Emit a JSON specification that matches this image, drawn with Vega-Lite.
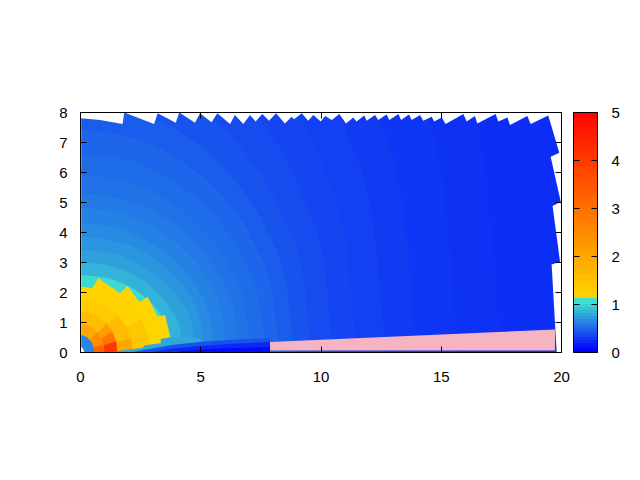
{"$schema":"https://vega.github.io/schema/vega-lite/v6.json","background":"white","padding":{"left":58,"top":105,"right":0,"bottom":0},"spacing":12,"bounds":"flush",
"config":{"view":{"stroke":null},"axis":{"grid":false,"title":null,"domain":true,"domainColor":"black","domainWidth":1,"tickColor":"black","tickWidth":1,"tickSize":-6,"labelColor":"black","labelFont":"Liberation Sans","labelFontSize":15,"labelFlush":false,"labelOverlap":false}},
"datasets":{
"polys":[
{"id":1,"v":0.2,"x":0,"y":8},{"id":1,"v":0.2,"x":20,"y":8},
{"id":2,"v":0.21,"x":0,"y":25},{"id":2,"v":0.21,"x":5.2,"y":24.15},{"id":2,"v":0.21,"x":10,"y":21.65},{"id":2,"v":0.21,"x":14.1,"y":17.7},{"id":2,"v":0.21,"x":17.3,"y":12.5},{"id":2,"v":0.21,"x":19.3,"y":6.5},{"id":2,"v":0.21,"x":20,"y":0},
{"id":3,"v":0.225,"x":0,"y":22},{"id":3,"v":0.225,"x":4.55,"y":21.25},{"id":3,"v":0.225,"x":8.75,"y":19.05},{"id":3,"v":0.225,"x":12.4,"y":15.55},{"id":3,"v":0.225,"x":15.15,"y":11},{"id":3,"v":0.225,"x":16.9,"y":5.7},{"id":3,"v":0.225,"x":17.5,"y":0},
{"id":4,"v":0.24,"x":0,"y":20},{"id":4,"v":0.24,"x":4.1,"y":19.3},{"id":4,"v":0.24,"x":7.85,"y":17.3},{"id":4,"v":0.24,"x":11.1,"y":14.15},{"id":4,"v":0.24,"x":13.6,"y":10},{"id":4,"v":0.24,"x":15.15,"y":5.2},{"id":4,"v":0.24,"x":15.7,"y":0},
{"id":5,"v":0.26,"x":0,"y":17},{"id":5,"v":0.26,"x":3.65,"y":16.4},{"id":5,"v":0.26,"x":7,"y":14.7},{"id":5,"v":0.26,"x":9.9,"y":12},{"id":5,"v":0.26,"x":12.1,"y":8.5},{"id":5,"v":0.26,"x":13.5,"y":4.4},{"id":5,"v":0.26,"x":14,"y":0},
{"id":6,"v":0.285,"x":0,"y":15},{"id":6,"v":0.285,"x":3.3,"y":14.5},{"id":6,"v":0.285,"x":6.35,"y":13},{"id":6,"v":0.285,"x":9,"y":10.6},{"id":6,"v":0.285,"x":11,"y":7.5},{"id":6,"v":0.285,"x":12.25,"y":3.9},{"id":6,"v":0.285,"x":12.7,"y":0},
{"id":7,"v":0.31,"x":0,"y":13},{"id":7,"v":0.31,"x":3,"y":12.55},{"id":7,"v":0.31,"x":5.75,"y":11.25},{"id":7,"v":0.31,"x":8.15,"y":9.2},{"id":7,"v":0.31,"x":9.95,"y":6.5},{"id":7,"v":0.31,"x":11.1,"y":3.4},{"id":7,"v":0.31,"x":11.5,"y":0},
{"id":8,"v":0.34,"x":0,"y":11},{"id":8,"v":0.34,"x":2.75,"y":10.6},{"id":8,"v":0.34,"x":5.25,"y":9.5},{"id":8,"v":0.34,"x":7.4,"y":7.8},{"id":8,"v":0.34,"x":9.1,"y":5.5},{"id":8,"v":0.34,"x":10.15,"y":2.85},{"id":8,"v":0.34,"x":10.5,"y":0},
{"id":9,"v":0.37,"x":0,"y":9.5},{"id":9,"v":0.37,"x":2.5,"y":9.2},{"id":9,"v":0.37,"x":4.8,"y":8.2},{"id":9,"v":0.37,"x":6.8,"y":6.7},{"id":9,"v":0.37,"x":8.3,"y":4.75},{"id":9,"v":0.37,"x":9.3,"y":2.45},{"id":9,"v":0.37,"x":9.6,"y":0},
{"id":10,"v":0.41,"x":0,"y":8.3},{"id":10,"v":0.41,"x":2.3,"y":8},{"id":10,"v":0.41,"x":4.45,"y":7.2},{"id":10,"v":0.41,"x":6.3,"y":5.85},{"id":10,"v":0.41,"x":7.7,"y":4.15},{"id":10,"v":0.41,"x":8.6,"y":2.15},{"id":10,"v":0.41,"x":8.9,"y":0},
{"id":11,"v":0.45,"x":0,"y":7.4},{"id":11,"v":0.45,"x":2.15,"y":7.15},{"id":11,"v":0.45,"x":4.15,"y":6.4},{"id":11,"v":0.45,"x":5.85,"y":5.25},{"id":11,"v":0.45,"x":7.2,"y":3.7},{"id":11,"v":0.45,"x":8,"y":1.9},{"id":11,"v":0.45,"x":8.3,"y":0},
{"id":12,"v":0.48,"x":0,"y":6.6},{"id":12,"v":0.48,"x":2,"y":6.4},{"id":12,"v":0.48,"x":3.85,"y":5.7},{"id":12,"v":0.48,"x":5.45,"y":4.65},{"id":12,"v":0.48,"x":6.65,"y":3.3},{"id":12,"v":0.48,"x":7.45,"y":1.7},{"id":12,"v":0.48,"x":7.7,"y":0},
{"id":13,"v":0.51,"x":0,"y":5.9},{"id":13,"v":0.51,"x":1.85,"y":5.7},{"id":13,"v":0.51,"x":3.55,"y":5.1},{"id":13,"v":0.51,"x":5,"y":4.15},{"id":13,"v":0.51,"x":6.15,"y":2.95},{"id":13,"v":0.51,"x":6.85,"y":1.55},{"id":13,"v":0.51,"x":7.1,"y":0},
{"id":14,"v":0.54,"x":0,"y":5.3},{"id":14,"v":0.54,"x":1.7,"y":5.1},{"id":14,"v":0.54,"x":3.3,"y":4.6},{"id":14,"v":0.54,"x":4.65,"y":3.75},{"id":14,"v":0.54,"x":5.7,"y":2.65},{"id":14,"v":0.54,"x":6.4,"y":1.4},{"id":14,"v":0.54,"x":6.6,"y":0},
{"id":15,"v":0.58,"x":0,"y":4.8},{"id":15,"v":0.58,"x":1.6,"y":4.65},{"id":15,"v":0.58,"x":3.05,"y":4.15},{"id":15,"v":0.58,"x":4.3,"y":3.4},{"id":15,"v":0.58,"x":5.3,"y":2.4},{"id":15,"v":0.58,"x":5.9,"y":1.25},{"id":15,"v":0.58,"x":6.1,"y":0},
{"id":16,"v":0.62,"x":0,"y":4.3},{"id":16,"v":0.62,"x":1.45,"y":4.15},{"id":16,"v":0.62,"x":2.8,"y":3.7},{"id":16,"v":0.62,"x":3.95,"y":3.05},{"id":16,"v":0.62,"x":4.85,"y":2.15},{"id":16,"v":0.62,"x":5.4,"y":1.1},{"id":16,"v":0.62,"x":5.6,"y":0},
{"id":17,"v":0.67,"x":0,"y":3.85},{"id":17,"v":0.67,"x":1.35,"y":3.7},{"id":17,"v":0.67,"x":2.6,"y":3.35},{"id":17,"v":0.67,"x":3.7,"y":2.7},{"id":17,"v":0.67,"x":4.5,"y":1.95},{"id":17,"v":0.67,"x":5,"y":1},{"id":17,"v":0.67,"x":5.2,"y":0},
{"id":18,"v":0.72,"x":0,"y":3.4},{"id":18,"v":0.72,"x":1.25,"y":3.3},{"id":18,"v":0.72,"x":2.4,"y":2.95},{"id":18,"v":0.72,"x":3.4,"y":2.4},{"id":18,"v":0.72,"x":4.15,"y":1.7},{"id":18,"v":0.72,"x":4.65,"y":0.9},{"id":18,"v":0.72,"x":4.8,"y":0},
{"id":19,"v":0.8,"x":0,"y":3},{"id":19,"v":0.8,"x":1.1,"y":2.9},{"id":19,"v":0.8,"x":2.15,"y":2.6},{"id":19,"v":0.8,"x":3.05,"y":2.1},{"id":19,"v":0.8,"x":3.7,"y":1.5},{"id":19,"v":0.8,"x":4.15,"y":0.8},{"id":19,"v":0.8,"x":4.3,"y":0},
{"id":20,"v":0.97,"x":0,"y":2.57},{"id":20,"v":0.97,"x":1,"y":2.48},{"id":20,"v":0.97,"x":1.93,"y":2.23},{"id":20,"v":0.97,"x":2.72,"y":1.82},{"id":20,"v":0.97,"x":3.33,"y":1.28},{"id":20,"v":0.97,"x":3.72,"y":0.67},{"id":20,"v":0.97,"x":3.85,"y":0},
{"id":21,"v":1.03,"x":0,"y":2.18},{"id":21,"v":1.03,"x":0.49,"y":2.1},{"id":21,"v":1.03,"x":0.76,"y":2.46},{"id":21,"v":1.03,"x":1.67,"y":1.96},{"id":21,"v":1.03,"x":1.97,"y":2.21},{"id":21,"v":1.03,"x":2.47,"y":1.66},{"id":21,"v":1.03,"x":2.81,"y":1.84},{"id":21,"v":1.03,"x":3.22,"y":1.18},{"id":21,"v":1.03,"x":3.54,"y":1.23},{"id":21,"v":1.03,"x":3.75,"y":0.49},{"id":21,"v":1.03,"x":3.36,"y":0.43},{"id":21,"v":1.03,"x":3.36,"y":0.29},{"id":21,"v":1.03,"x":2.67,"y":0.22},{"id":21,"v":1.03,"x":2.61,"y":0.14},{"id":21,"v":1.03,"x":1.8,"y":0.06},{"id":21,"v":1.03,"x":1.39,"y":0},
{"id":22,"v":1.1,"x":0,"y":2.18},{"id":22,"v":1.1,"x":0.77,"y":2.1},{"id":22,"v":1.1,"x":1.48,"y":1.89},{"id":22,"v":1.1,"x":2.09,"y":1.54},{"id":22,"v":1.1,"x":2.55,"y":1.09},{"id":22,"v":1.1,"x":2.85,"y":0.57},{"id":22,"v":1.1,"x":2.95,"y":0},
{"id":23,"v":1.3,"x":0,"y":0},{"id":23,"v":1.3,"x":2.55,"y":1.09},{"id":23,"v":1.3,"x":2.85,"y":0.57},{"id":23,"v":1.3,"x":2.95,"y":0},
{"id":24,"v":1.25,"x":0,"y":1.75},{"id":24,"v":1.25,"x":0.57,"y":1.69},{"id":24,"v":1.25,"x":1.1,"y":1.52},{"id":24,"v":1.25,"x":1.56,"y":1.24},{"id":24,"v":1.25,"x":1.91,"y":0.88},{"id":24,"v":1.25,"x":2.13,"y":0.46},{"id":24,"v":1.25,"x":2.2,"y":0},
{"id":25,"v":1.5,"x":0,"y":0},{"id":25,"v":1.5,"x":1.56,"y":1.24},{"id":25,"v":1.5,"x":1.91,"y":0.88},{"id":25,"v":1.5,"x":2.13,"y":0.46},{"id":25,"v":1.5,"x":2.2,"y":0},
{"id":26,"v":1.9,"x":0,"y":0},{"id":26,"v":1.9,"x":2.13,"y":0.46},{"id":26,"v":1.9,"x":2.2,"y":0},
{"id":27,"v":1.5,"x":0,"y":1.35},{"id":27,"v":1.5,"x":0.4,"y":1.3},{"id":27,"v":1.5,"x":0.78,"y":1.17},{"id":27,"v":1.5,"x":1.1,"y":0.95},{"id":27,"v":1.5,"x":1.34,"y":0.68},{"id":27,"v":1.5,"x":1.5,"y":0.35},{"id":27,"v":1.5,"x":1.55,"y":0},
{"id":28,"v":2.1,"x":0,"y":0},{"id":28,"v":2.1,"x":1.1,"y":0.95},{"id":28,"v":2.1,"x":1.34,"y":0.68},{"id":28,"v":2.1,"x":1.5,"y":0.35},{"id":28,"v":2.1,"x":1.55,"y":0},
{"id":29,"v":2.8,"x":0,"y":0},{"id":29,"v":2.8,"x":1.34,"y":0.68},{"id":29,"v":2.8,"x":1.5,"y":0.35},{"id":29,"v":2.8,"x":1.55,"y":0},
{"id":30,"v":4,"x":0,"y":0},{"id":30,"v":4,"x":1.5,"y":0.35},{"id":30,"v":4,"x":1.55,"y":0},
{"id":31,"v":1.9,"x":0,"y":0.95},{"id":31,"v":1.9,"x":0.26,"y":0.92},{"id":31,"v":1.9,"x":0.5,"y":0.82},{"id":31,"v":1.9,"x":0.71,"y":0.67},{"id":31,"v":1.9,"x":0.87,"y":0.48},{"id":31,"v":1.9,"x":0.97,"y":0.25},{"id":31,"v":1.9,"x":1,"y":0},
{"id":32,"v":2.4,"x":0,"y":0},{"id":32,"v":2.4,"x":0.71,"y":0.67},{"id":32,"v":2.4,"x":0.87,"y":0.48},{"id":32,"v":2.4,"x":0.97,"y":0.25},{"id":32,"v":2.4,"x":1,"y":0},
{"id":33,"v":3.2,"x":0,"y":0},{"id":33,"v":3.2,"x":0.97,"y":0.25},{"id":33,"v":3.2,"x":1,"y":0},
{"id":34,"v":0.6,"x":0,"y":0.57},{"id":34,"v":0.6,"x":0.15,"y":0.55},{"id":34,"v":0.6,"x":0.29,"y":0.49},{"id":34,"v":0.6,"x":0.41,"y":0.4},{"id":34,"v":0.6,"x":0.5,"y":0.29},{"id":34,"v":0.6,"x":0.56,"y":0.15},{"id":34,"v":0.6,"x":0.58,"y":0},
{"id":35,"v":0.75,"x":1.39,"y":0},{"id":35,"v":0.75,"x":1.8,"y":0.06},{"id":35,"v":0.75,"x":2.61,"y":0.14},{"id":35,"v":0.75,"x":2.67,"y":0.22},{"id":35,"v":0.75,"x":3.36,"y":0.29},{"id":35,"v":0.75,"x":3.36,"y":0.43},{"id":35,"v":0.75,"x":3.75,"y":0.49},{"id":35,"v":0.75,"x":4.5,"y":0.5},{"id":35,"v":0.75,"x":5,"y":0.45},{"id":35,"v":0.75,"x":5,"y":0},
{"id":36,"v":0.36,"x":2.2,"y":0},{"id":36,"v":0.36,"x":3,"y":0.12},{"id":36,"v":0.36,"x":3.9,"y":0.24},{"id":36,"v":0.36,"x":5,"y":0.33},{"id":36,"v":0.36,"x":6.5,"y":0.42},{"id":36,"v":0.36,"x":7.9,"y":0.46},{"id":36,"v":0.36,"x":7.9,"y":0},
{"id":37,"v":0.18,"x":3,"y":0},{"id":37,"v":0.18,"x":3.9,"y":0.12},{"id":37,"v":0.18,"x":5,"y":0.2},{"id":37,"v":0.18,"x":6.5,"y":0.28},{"id":37,"v":0.18,"x":7.9,"y":0.33},{"id":37,"v":0.18,"x":7.9,"y":0},
{"id":38,"v":0.04,"x":4,"y":0},{"id":38,"v":0.04,"x":5,"y":0.08},{"id":38,"v":0.04,"x":6.5,"y":0.13},{"id":38,"v":0.04,"x":7.9,"y":0.17},{"id":38,"v":0.04,"x":7.9,"y":0}
],
"pink":[{"x":7.9,"y":0.33},{"x":19.75,"y":0.75}],
"dot":[{"x":0,"y":0.17},{"x":0.09,"y":0.14},{"x":0.15,"y":0.07},{"x":0.17,"y":0}],
"mask":[{"x":0,"y":0},{"x":0.05,"y":0},{"x":0.05,"y":7.79},{"x":0.83,"y":7.73},{"x":1.77,"y":7.6},{"x":1.84,"y":7.98},{"x":3.08,"y":7.6},{"x":3.23,"y":7.96},{"x":3.98,"y":7.64},{"x":4.13,"y":7.98},{"x":4.78,"y":7.64},{"x":4.99,"y":7.96},{"x":5.47,"y":7.66},{"x":5.71,"y":7.96},{"x":6.24,"y":7.6},{"x":6.44,"y":7.9},{"x":6.79,"y":7.6},{"x":7.07,"y":7.9},{"x":7.3,"y":7.68},{"x":7.58,"y":7.93},{"x":7.86,"y":7.71},{"x":8.15,"y":7.96},{"x":8.52,"y":7.62},{"x":8.8,"y":7.84},{"x":8.9,"y":7.76},{"x":9.22,"y":7.96},{"x":9.49,"y":7.71},{"x":9.7,"y":7.9},{"x":10.01,"y":7.68},{"x":10.19,"y":7.87},{"x":10.47,"y":7.73},{"x":10.78,"y":7.93},{"x":11.06,"y":7.62},{"x":11.36,"y":7.82},{"x":11.5,"y":7.68},{"x":11.82,"y":7.88},{"x":11.92,"y":7.71},{"x":12.27,"y":7.9},{"x":12.4,"y":7.73},{"x":12.75,"y":7.92},{"x":12.86,"y":7.73},{"x":13.24,"y":7.93},{"x":13.35,"y":7.73},{"x":13.68,"y":7.92},{"x":13.79,"y":7.73},{"x":14.14,"y":7.9},{"x":14.27,"y":7.71},{"x":14.62,"y":7.84},{"x":14.73,"y":7.68},{"x":15.04,"y":7.82},{"x":15.2,"y":7.6},{"x":15.94,"y":7.93},{"x":16.08,"y":7.68},{"x":16.42,"y":7.87},{"x":16.52,"y":7.62},{"x":17.28,"y":7.93},{"x":17.39,"y":7.68},{"x":17.77,"y":7.82},{"x":17.88,"y":7.57},{"x":18.6,"y":7.87},{"x":18.74,"y":7.6},{"x":19.47,"y":7.88},{"x":19.93,"y":6.64},{"x":19.57,"y":6.51},{"x":19.99,"y":5.01},{"x":19.65,"y":4.87},{"x":19.96,"y":3.01},{"x":19.61,"y":2.92},{"x":19.82,"y":0},{"x":20,"y":0}],
"bar":[{"v":0,"w":0.0625},{"v":0.0625,"w":0.125},{"v":0.125,"w":0.1875},{"v":0.1875,"w":0.25},{"v":0.25,"w":0.3125},{"v":0.3125,"w":0.375},{"v":0.375,"w":0.4375},{"v":0.4375,"w":0.5},{"v":0.5,"w":0.5625},{"v":0.5625,"w":0.625},{"v":0.625,"w":0.6875},{"v":0.6875,"w":0.75},{"v":0.75,"w":0.8125},{"v":0.8125,"w":0.875},{"v":0.875,"w":0.9375},{"v":0.9375,"w":1},{"v":1,"w":1.125},{"v":1.125,"w":1.25},{"v":1.25,"w":1.375},{"v":1.375,"w":1.5},{"v":1.5,"w":1.625},{"v":1.625,"w":1.75},{"v":1.75,"w":1.875},{"v":1.875,"w":2},{"v":2,"w":2.125},{"v":2.125,"w":2.25},{"v":2.25,"w":2.375},{"v":2.375,"w":2.5},{"v":2.5,"w":2.625},{"v":2.625,"w":2.75},{"v":2.75,"w":2.875},{"v":2.875,"w":3},{"v":3,"w":3.125},{"v":3.125,"w":3.25},{"v":3.25,"w":3.375},{"v":3.375,"w":3.5},{"v":3.5,"w":3.625},{"v":3.625,"w":3.75},{"v":3.75,"w":3.875},{"v":3.875,"w":4},{"v":4,"w":4.125},{"v":4.125,"w":4.25},{"v":4.25,"w":4.375},{"v":4.375,"w":4.5},{"v":4.5,"w":4.625},{"v":4.625,"w":4.75},{"v":4.75,"w":4.875},{"v":4.875,"w":5}]
},
"hconcat":[
{"width":481,"height":240,"resolve":{"axis":{"x":"independent","y":"independent"}},
"layer":[
{"data":{"name":"polys"},"transform":[{"filter":"datum.id<=20"}],"mark":{"type":"area","orient":"vertical","clip":true,"order":null,"interpolate":"monotone"},
"encoding":{"x":{"field":"x","type":"quantitative","scale":{"domain":[0,20],"nice":false,"zero":false},"axis":{"values":[0,5,10,15,20],"orient":"bottom","labelPadding":23,"zindex":1}},
"y":{"field":"y","type":"quantitative","stack":null,"scale":{"domain":[0,8],"nice":false,"zero":false},"axis":{"values":[0,1,2,3,4,5,6,7,8],"orient":"left","labelPadding":19,"zindex":1}},
"y2":{"datum":0},"detail":{"field":"id"},
"color":{"field":"v","type":"quantitative","legend":null,"scale":{"domain":[0,1,1.0001,5],"range":["#0000ff","#40e0d0","#ffd700","#ff0000"],"interpolate":"rgb"}}}},
{"data":{"name":"polys"},"transform":[{"filter":"datum.id>20"}],"mark":{"type":"area","orient":"vertical","clip":true,"order":null},
"encoding":{"x":{"field":"x","type":"quantitative","axis":null},
"y":{"field":"y","type":"quantitative","stack":null,"axis":null},
"y2":{"datum":0},"detail":{"field":"id"},
"color":{"field":"v","type":"quantitative","legend":null,"scale":{"domain":[0,1,1.0001,5],"range":["#0000ff","#40e0d0","#ffd700","#ff0000"],"interpolate":"rgb"}}}},
{"data":{"name":"pink"},"mark":{"type":"area","orient":"vertical","clip":true,"color":"#f6b3c1"},
"encoding":{"x":{"field":"x","type":"quantitative","axis":null},"y":{"field":"y","type":"quantitative","stack":null,"axis":null},"y2":{"datum":0.05}}},
{"data":{"name":"dot"},"mark":{"type":"area","orient":"vertical","clip":true,"color":"white"},
"encoding":{"x":{"field":"x","type":"quantitative","axis":null},"y":{"field":"y","type":"quantitative","stack":null,"axis":null},"y2":{"datum":0}}},
{"data":{"name":"mask"},"mark":{"type":"area","orient":"vertical","clip":true,"color":"white","order":null},
"encoding":{"x":{"field":"x","type":"quantitative","axis":{"values":[0,5,10,15,20],"orient":"top","labels":false,"zindex":1}},
"y":{"field":"y","type":"quantitative","stack":null,"axis":{"values":[0,1,2,3,4,5,6,7,8],"orient":"right","labels":false,"zindex":1}},"y2":{"datum":8}}}
]},
{"width":24,"height":240,"resolve":{"axis":{"x":"independent","y":"independent"}},
"layer":[
{"data":{"name":"bar"},"mark":{"type":"rect","clip":true},
"encoding":{"x":{"datum":0,"type":"quantitative","scale":{"domain":[0,1],"nice":false,"zero":false},"axis":{"orient":"bottom","labels":false,"ticks":false,"zindex":1}},"x2":{"datum":1},"y":{"field":"v","type":"quantitative","scale":{"domain":[0,5],"nice":false,"zero":false},"axis":{"values":[0,1,2,3,4,5],"orient":"right","labelPadding":20,"zindex":1}},"y2":{"field":"w"},
"color":{"field":"v","type":"quantitative","legend":null,"scale":{"domain":[0,1,1.0001,5],"range":["#0000ff","#40e0d0","#ffd700","#ff0000"],"interpolate":"rgb"}}}},
{"data":{"values":[{"v":0,"w":5}]},"mark":{"type":"rect","opacity":0},
"encoding":{"x":{"datum":0,"type":"quantitative","axis":{"orient":"top","labels":false,"ticks":false,"zindex":1}},"x2":{"datum":1},"y":{"field":"v","type":"quantitative","axis":{"values":[0,1,2,3,4,5],"orient":"left","labels":false,"zindex":1}},"y2":{"field":"w"}}}
]}
]}
